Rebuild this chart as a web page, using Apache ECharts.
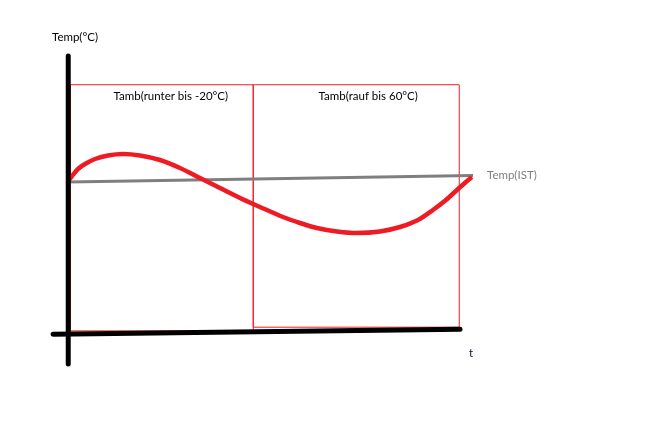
<!DOCTYPE html>
<html>
<head>
<meta charset="utf-8">
<script src="https://cdn.jsdelivr.net/npm/echarts@6/dist/echarts.min.js"></script>
<style>html,body{margin:0;padding:0;background:#fff;}#c{width:653px;height:438px;}</style>
</head>
<body>
<div id="c"></div>
<script>
// time (t) and temperature values (arbitrary units)
const curveT    = [0, 0.93, 2.41, 4.14, 6.61, 9.82, 13.53, 17.73, 22.67, 27.61, 32.55, 37.49, 42.43, 47.37, 53.05, 57.25, 61.45, 66.39, 71.33, 77.01, 81.95, 86.40, 90.10, 93.31, 96.03, 98.25, 99.73];
const curveTemp = [59.35, 60.97, 63.23, 64.84, 66.45, 67.58, 68.06, 67.58, 66.13, 63.55, 60.32, 57.10, 53.87, 50.97, 47.74, 45.81, 44.19, 43.06, 42.58, 43.06, 44.52, 46.77, 50.0, 53.23, 56.45, 59.03, 60.65];
const istT      = [0, 100];
const istTemp   = [59.0, 61.1];
// phases (Tamb ramps)
const phaseNames = ['Tamb(runter bis -20°C)', 'Tamb(rauf bis 60°C)'];
const phaseStart = [0.55, 45.7];
const phaseEnd   = [45.7, 96.6];
const phaseLow   = [11.0, 12.2];
const phaseHigh  = [90.4, 90.4];
// hand-drawn axes
const yAxisT = [0, 0];
const yAxisV = [0.3, 99.7];
const xAxisT = [-3.75, 96.8];
const xAxisV = [9.9, 11.5];

const zip = (a, b) => a.map((v, i) => [v, b[i]]);
const RED = '#ed1c24';
const FONT = 'Lato, "Open Sans", sans-serif';

const chart = echarts.init(document.getElementById('c'));
chart.setOption({
  animation: false,
  backgroundColor: '#ffffff',
  grid: { left: 48, right: 180, top: 55, bottom: 73 },
  xAxis: { type: 'value', min: -5, max: 100, show: false },
  yAxis: { type: 'value', min: 0, max: 100, show: false },
  graphic: [
    { type: 'text', left: 52, top: 31, style: { text: 'Temp(°C)', fill: '#000', font: '11.5px ' + FONT } },
    { type: 'text', left: 487, top: 169, style: { text: 'Temp(IST)', fill: '#7f7f7f', font: '11.5px ' + FONT } },
    { type: 'text', left: 469, top: 347, style: { text: 't', fill: '#111133', font: '11.5px ' + FONT } }
  ],
  series: [
    {
      type: 'line', data: [], z: 1,
      markArea: {
        silent: true,
        itemStyle: { color: 'rgba(0,0,0,0)', borderColor: RED, borderWidth: 1 },
        label: { show: true, position: 'insideTop', distance: 6, color: '#000', fontSize: 11.5, fontFamily: FONT },
        data: phaseNames.map((n, i) => [
          { name: n, xAxis: phaseStart[i], yAxis: phaseHigh[i], label: { offset: [i === 0 ? 9 : 12, 0] } },
          { xAxis: phaseEnd[i], yAxis: phaseLow[i] }
        ])
      }
    },
    {
      type: 'line', data: zip(istT, istTemp), symbol: 'none', z: 3,
      lineStyle: { color: '#7f7f7f', width: 3 }
    },
    {
      type: 'line', data: zip(curveT, curveTemp), symbol: 'none', smooth: 0.3, z: 4,
      lineStyle: { color: RED, width: 4.5 }
    },
    {
      type: 'line', data: zip(yAxisT, yAxisV), symbol: 'none', z: 5,
      lineStyle: { color: '#000', width: 5, cap: 'round' }
    },
    {
      type: 'line', data: zip(xAxisT, xAxisV), symbol: 'none', z: 5,
      lineStyle: { color: '#000', width: 5, cap: 'round' }
    }
  ]
});
</script>
</body>
</html>
